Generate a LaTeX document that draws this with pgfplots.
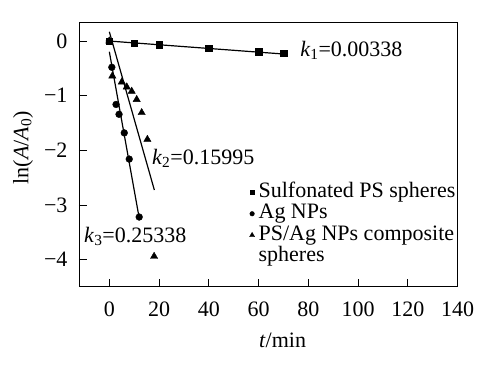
\documentclass[border=0pt]{standalone}
\usepackage{fontspec}
\setmainfont{Liberation Serif}
\usepackage{pgfplots}
\pgfplotsset{compat=1.18}
\begin{document}
\fontsize{22bp}{26bp}\selectfont
\begin{tikzpicture}
\useasboundingbox (-79bp,-81bp) rectangle (408bp,286.7bp);
\begin{axis}[at={(0,0)}, anchor=south west, scale only axis,
  width=378.5bp, height=264bp,
  xmin=-12.2, xmax=140, ymin=-4.495, ymax=0.336,
  axis line style={line width=0.8bp},
  xtick={0,20,40,60,80,100,120,140},
  ytick={-4,-3,-2,-1,0},
  yticklabels={−4,−3,−2,−1,0},
  /pgf/number format/assume math mode=true,
  tick pos=left, tick align=inside,
  major tick length=8bp,
  tick style={line width=0.8bp, black},
  xticklabel style={yshift=-7.5bp},
  yticklabel style={xshift=-4bp},
  xlabel={\textit{t}/min},
  xlabel style={at={(axis description cs:0.538,0)}, anchor=base, yshift=-61bp},
  ylabel={ln(\textit{A}/\textit{A}\textsubscript{0})},
  ylabel style={at={(axis description cs:0,0.527)}, anchor=center, yshift=56bp},
  legend style={at={(axis cs:56.4,-2.57)}, anchor=north west, draw=none, fill=none,
    inner sep=0pt, outer sep=0pt, row sep=0pt, column sep=4bp,
    nodes={inner sep=0pt, text height=15.5bp, text depth=6bp}},
  legend cell align=left,
  legend image code/.code={\draw[#1] plot coordinates {(0bp,0bp)};},
]
% fitted lines
\addplot[black, line width=1.2bp, forget plot] coordinates {(0,0) (70,-0.237)};
\addplot[black, line width=1.2bp, forget plot] coordinates {(0,-0.196) (12,-3.236)};
\addplot[black, line width=1.2bp, forget plot] coordinates {(0,0.17) (18.1,-2.725)};
% data
\addplot[only marks, mark=square*, mark size=3.3bp, black, forget plot] coordinates {
(0,0) (10,-0.04) (20,-0.07) (40,-0.13) (60,-0.2) (70,-0.22)};
\addplot[only marks, mark=*, mark size=3.4bp, black, forget plot] coordinates {
(0,0) (1,-0.48) (2.7,-1.16) (3.9,-1.34) (6,-1.68) (8,-2.16) (12,-3.22)};
\addplot[only marks, mark=triangle*, mark size=4.2bp, black, forget plot] coordinates {
(0,0) (1.2,-0.64) (5,-0.75) (7,-0.84) (9,-0.92) (11,-1.07) (13,-1.31) (15.3,-1.8) (18,-3.94)};
% legend
\addlegendimage{only marks, mark=square*, mark size=2.2bp, black}
\addlegendentry{Sulfonated PS spheres}
\addlegendimage{only marks, mark=*, mark size=2.3bp, black}
\addlegendentry{Ag NPs}
\addlegendimage{only marks, mark=triangle*, mark size=2.9bp, black}
\addlegendentry{PS/Ag NPs composite}
\addlegendimage{empty legend}
\addlegendentry{spheres}
% annotations
\node[anchor=base west, inner sep=0pt] at (axis cs:76.7,-0.284) {\textit{k}\textsubscript{1}=0.00338};
\node[anchor=base west, inner sep=0pt] at (axis cs:17.1,-2.257) {\textit{k}\textsubscript{2}=0.15995};
\node[anchor=base west, inner sep=0pt] at (axis cs:-10.2,-3.69) {\textit{k}\textsubscript{3}=0.25338};
\end{axis}
\end{tikzpicture}
\end{document}
